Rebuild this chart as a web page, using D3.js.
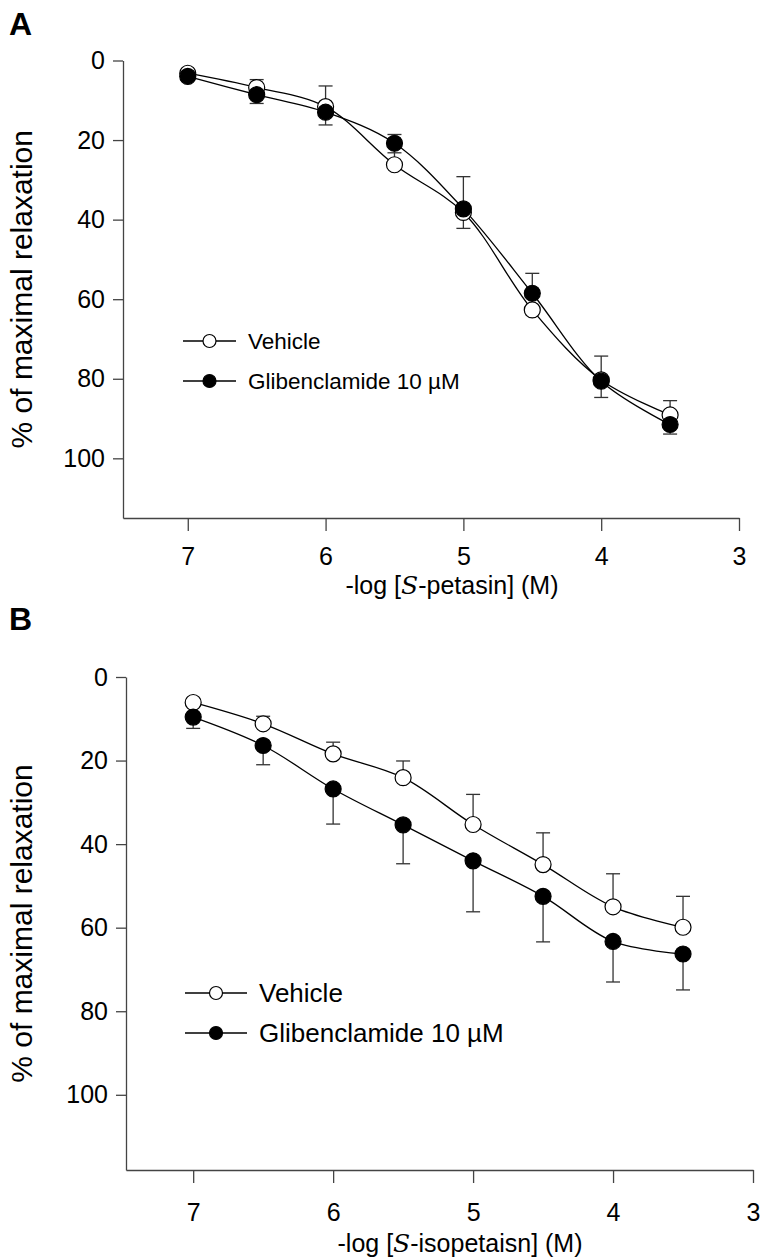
<!DOCTYPE html>
<html><head><meta charset="utf-8">
<script src="https://cdn.jsdelivr.net/npm/d3@7"></script>
<style>
html,body{margin:0;padding:0;background:#fff;}
svg text{font-family:"Liberation Sans",Arial,Helvetica,sans-serif;fill:#000;}
</style></head>
<body>
<svg id="chart" width="762" height="1258"></svg>
<script>
// ---- data ----
const concentrations = [7, 6.5, 6, 5.5, 5, 4.5, 4, 3.5];
const xTickValues = [7, 6, 5, 4, 3];
const yTickValues = [0, 20, 40, 60, 80, 100];
const seriesNames = ["Vehicle", "Glibenclamide 10 \u00b5M"];

// Panel A: S-petasin
const aVehicle    = [3.2, 6.8, 11.6, 26.2, 38.2, 62.7, 80.3, 89.1];
const aVehicleSem = [1.0, 2.0, 5.2, 7.6, 9.0, 9.2, 6.0, 3.6];
const aGlib       = [4.0, 8.6, 13.0, 20.8, 37.3, 58.5, 80.6, 91.5];
const aGlibSem    = [1.0, 2.2, 3.2, 2.4, 4.9, 5.4, 4.1, 2.4];

// Panel B: S-isopetasin
const bVehicle    = [6.1, 11.2, 18.4, 24.1, 35.3, 44.9, 55.0, 59.9];
const bVehicleSem = [1.0, 1.8, 2.8, 4.0, 7.2, 7.6, 7.9, 7.4];
const bGlib       = [9.6, 16.4, 26.8, 35.4, 44.0, 52.5, 63.3, 66.3];
const bGlibSem    = [2.7, 4.6, 8.4, 9.3, 12.2, 10.9, 9.7, 8.6];

const svg = d3.select("#chart");
const FONT = 25;

function drawPanel(cfg) {
  const g = svg.append("g");
  const x = d3.scaleLinear().domain(cfg.xDomain).range(cfg.xRange);
  const y = d3.scaleLinear().domain(cfg.yDomain).range(cfg.yRange);

  const yAxis = d3.axisLeft(y).tickValues(yTickValues).tickFormat(d3.format("d"))
    .tickSize(10).tickPadding(8).tickSizeOuter(0);
  const xAxis = d3.axisBottom(x).tickValues(xTickValues).tickFormat(d3.format("d"))
    .tickSize(13).tickPadding(cfg.xTickPad).tickSizeOuter(0);

  const gy = g.append("g").attr("transform", `translate(${cfg.xRange[0]},0)`).call(yAxis);
  const gx = g.append("g").attr("transform", `translate(0,${cfg.yRange[1]})`).call(xAxis);
  [gx, gy].forEach(a => {
    a.select(".domain").attr("stroke", "#444").attr("stroke-width", 1.3);
    a.selectAll(".tick line").attr("stroke", "#444").attr("stroke-width", 1.3);
    a.selectAll(".tick text").attr("font-size", FONT)
      .attr("font-family", "Liberation Sans, Arial, sans-serif").attr("fill", "#000");
  });

  // axis titles
  const yMid = (cfg.yRange[0] + cfg.yRange[1]) / 2;
  g.append("text")
    .attr("transform", `translate(${cfg.yTitleX},${yMid}) rotate(-90)`)
    .attr("text-anchor", "middle").attr("font-size", cfg.yTitleFont)
    .text("% of maximal relaxation");

  const xt = g.append("text")
    .attr("x", cfg.xTitleX).attr("y", cfg.xTitleY)
    .attr("text-anchor", "middle").attr("font-size", FONT);
  xt.append("tspan").text("-log [");
  xt.append("tspan").attr("font-style", "italic").attr("font-family", "DejaVu Serif, serif").text("S");
  xt.append("tspan").text(cfg.compound + "] (M)");

  // panel letter
  g.append("text").attr("x", cfg.letterX).attr("y", cfg.letterY)
    .attr("font-size", 32).attr("font-weight", "bold").text(cfg.letter);

  const line = d3.line().x(d => x(d.c)).y(d => y(d.v)).curve(d3.curveCatmullRom.alpha(0.5));

  const series = [
    {name: seriesNames[0], vals: cfg.vehicle, sem: cfg.vehicleSem, fill: "#fff", dir: -1},
    {name: seriesNames[1], vals: cfg.glib, sem: cfg.glibSem, fill: "#000", dir: 1}
  ];

  series.forEach(s => {
    const pts = concentrations.map((c, i) => ({c, v: s.vals[i], e: s.sem[i]}));
    // error bars: vehicle drawn upward, glibenclamide downward
    const eb = g.append("g").attr("stroke", "#333").attr("stroke-width", 1.3);
    pts.forEach(p => {
      const y0 = y(p.v), y1 = y(p.v + s.dir * p.e), xc = x(p.c);
      eb.append("line").attr("x1", xc).attr("x2", xc).attr("y1", y0).attr("y2", y1);
      eb.append("line").attr("x1", xc - 7).attr("x2", xc + 7).attr("y1", y1).attr("y2", y1);
    });
    s.pts = pts;
  });
  series.forEach(s => {
    g.append("path").datum(s.pts).attr("d", line)
      .attr("fill", "none").attr("stroke", "#000").attr("stroke-width", 1.3);
  });
  series.forEach(s => {
    g.append("g").selectAll("circle").data(s.pts).join("circle")
      .attr("cx", d => x(d.c)).attr("cy", d => y(d.v)).attr("r", 8)
      .attr("fill", s.fill).attr("stroke", "#000").attr("stroke-width", 1.2);
  });

  // legend
  series.forEach((s, i) => {
    const ly = cfg.legendY + i * cfg.legendGap;
    g.append("line").attr("x1", cfg.legendX).attr("x2", cfg.legendX + cfg.legendLen)
      .attr("y1", ly).attr("y2", ly).attr("stroke", "#000").attr("stroke-width", 1.3);
    g.append("circle").attr("cx", cfg.legendX + cfg.legendLen / 2).attr("cy", ly).attr("r", 6.5)
      .attr("fill", s.fill).attr("stroke", "#000").attr("stroke-width", 1.2);
    g.append("text").attr("x", cfg.legendX + cfg.legendLen + 12).attr("y", ly + cfg.legendFont * 0.36)
      .attr("font-size", cfg.legendFont).text(s.name);
  });
}

drawPanel({
  letter: "A", letterX: 9, letterY: 35,
  xDomain: [7.47, 3], xRange: [123, 739],
  yDomain: [0, 115], yRange: [60.5, 518],
  xTickPad: 16,
  yTitleX: 32, yTitleFont: 30, xTitleX: 452, xTitleY: 594,
  compound: "-petasin",
  vehicle: aVehicle, vehicleSem: aVehicleSem, glib: aGlib, glibSem: aGlibSem,
  legendX: 183, legendY: 341, legendGap: 40, legendLen: 53, legendFont: 22.5
});

drawPanel({
  letter: "B", letterX: 9, letterY: 630,
  xDomain: [7.48, 3], xRange: [126, 753],
  yDomain: [0, 118], yRange: [677, 1170],
  xTickPad: 20,
  yTitleX: 32, yTitleFont: 30, xTitleX: 460, xTitleY: 1252,
  compound: "-isopetaisn",
  vehicle: bVehicle, vehicleSem: bVehicleSem, glib: bGlib, glibSem: bGlibSem,
  legendX: 185, legendY: 993, legendGap: 40, legendLen: 62, legendFont: 26
});
</script>
</body></html>
